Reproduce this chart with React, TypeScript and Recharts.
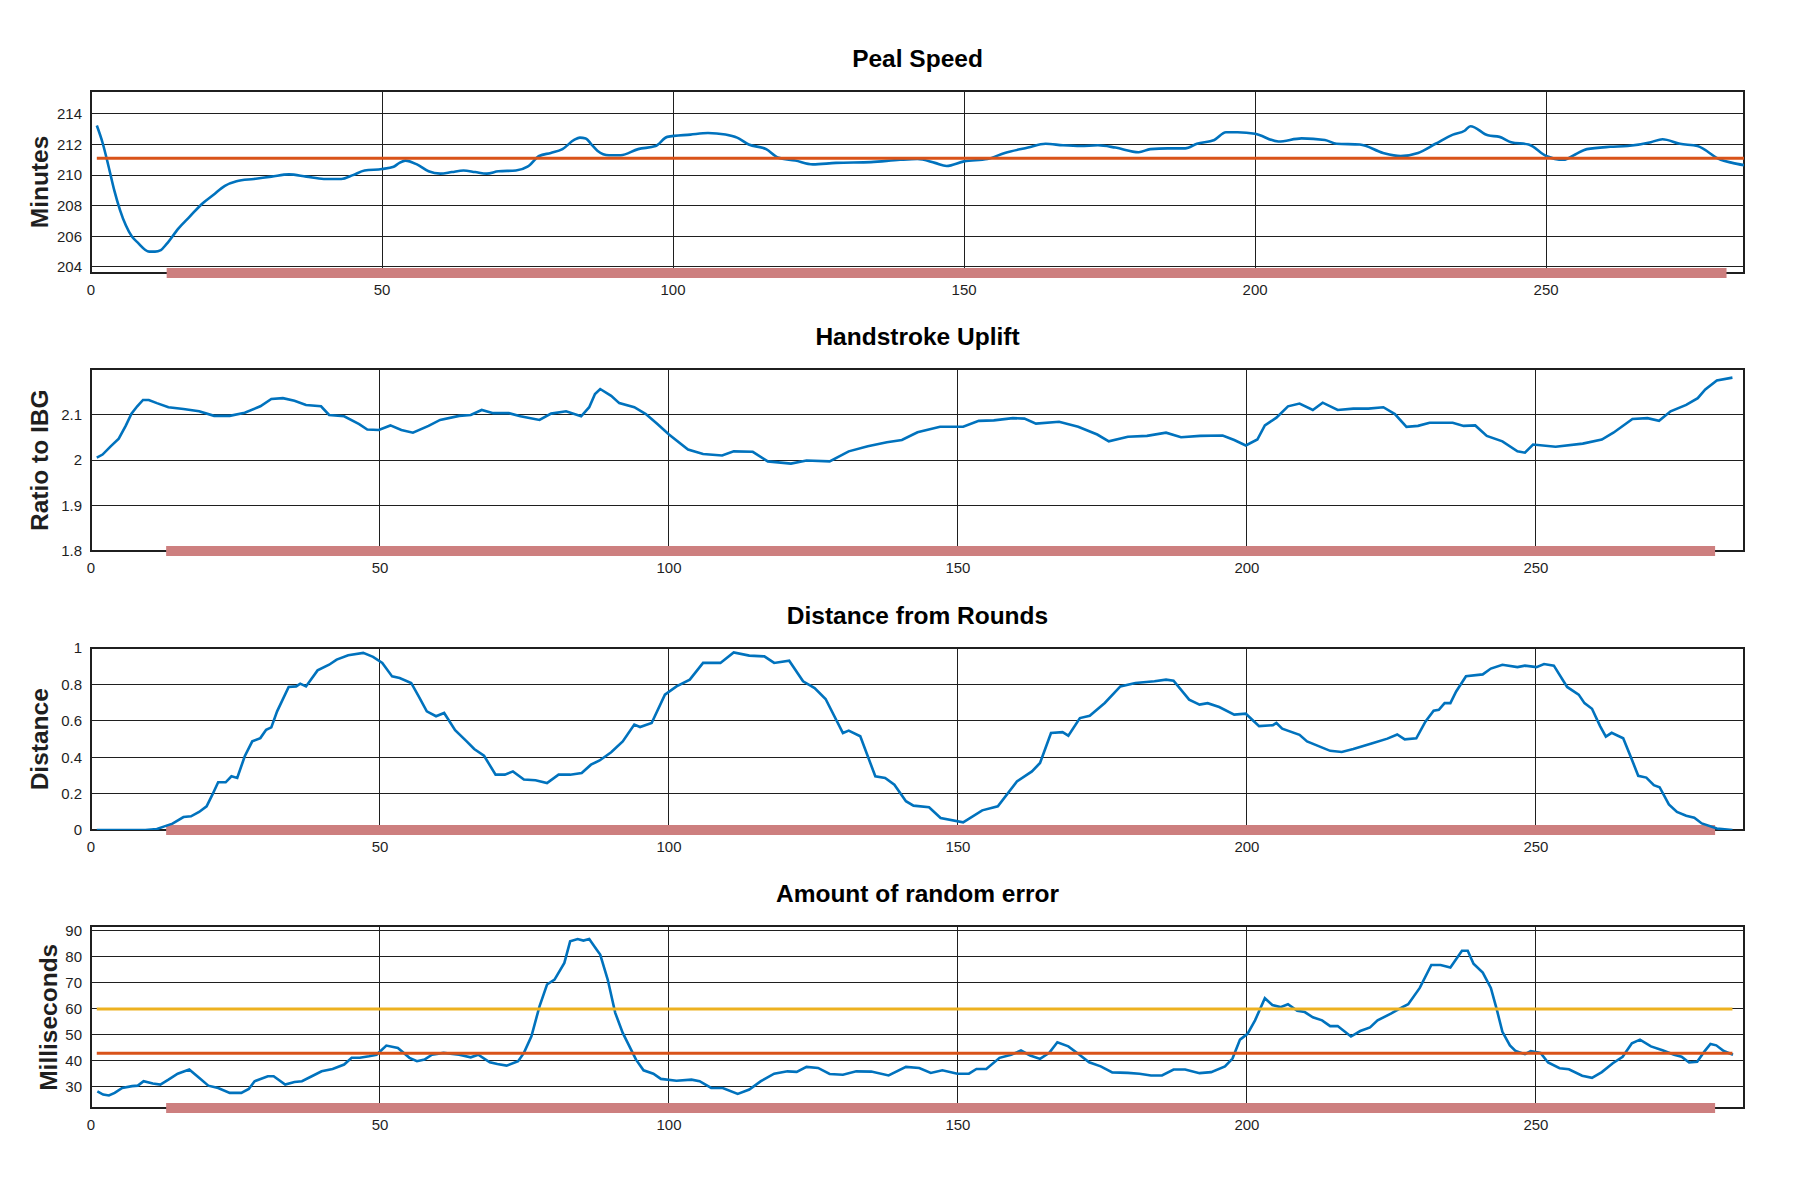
import { CartesianGrid, Line, LineChart, ReferenceArea, ReferenceLine, XAxis, YAxis } from 'recharts';

// shared axis bits
const X_TICKS = [0, 50, 100, 150, 200, 250];
const BAR_RANGE = [13, 281];
const MEAN_RANGE = [1, 284];

// Peal Speed (minutes)
const PEAL_X = [1, 2, 3, 4, 5, 6, 7, 8, 10, 11, 12, 13, 15, 17, 19, 21, 23, 25, 28, 31, 34, 37, 40, 43, 45, 47, 50, 52, 53, 54, 56, 58, 60, 62, 64, 66, 68, 70, 73, 75, 77, 79, 81, 83, 84, 85, 86, 87, 89, 91, 94, 97, 99, 103, 106, 109, 111, 113, 116, 118, 121, 124, 128, 134, 139, 142, 145, 147, 150, 154, 157, 161, 164, 167, 170, 173, 176, 180, 182, 185, 188, 190, 193, 195, 197, 200, 204, 208, 212, 214, 218, 222, 225, 228, 231, 234, 236, 237, 240, 242, 244, 247, 250, 253, 255, 257, 261, 264, 268, 270, 273, 276, 280, 282, 284];
const PEAL_Y = [213.24, 212.1, 210.6, 209.0, 207.7, 206.7, 206.0, 205.6, 205.0, 205.0, 205.1, 205.5, 206.5, 207.3, 208.1, 208.7, 209.3, 209.6, 209.75, 209.9, 210.05, 209.9, 209.75, 209.75, 210.0, 210.3, 210.4, 210.55, 210.8, 210.95, 210.7, 210.25, 210.1, 210.2, 210.3, 210.2, 210.1, 210.25, 210.3, 210.55, 211.25, 211.45, 211.7, 212.3, 212.45, 212.4, 212.0, 211.6, 211.3, 211.3, 211.7, 211.9, 212.5, 212.65, 212.75, 212.65, 212.45, 212.0, 211.7, 211.15, 210.95, 210.7, 210.8, 210.85, 211.0, 211.05, 210.8, 210.6, 210.9, 211.05, 211.45, 211.8, 212.05, 211.95, 211.9, 211.95, 211.8, 211.5, 211.7, 211.75, 211.75, 212.05, 212.3, 212.8, 212.8, 212.7, 212.2, 212.4, 212.3, 212.05, 212.0, 211.45, 211.25, 211.45, 212.05, 212.65, 212.9, 213.2, 212.6, 212.5, 212.15, 212.0, 211.25, 211.0, 211.35, 211.7, 211.85, 211.9, 212.15, 212.35, 212.05, 211.9, 211.0, 210.8, 210.65];
const PEAL_MEAN = 211.1;

// Handstroke Uplift (ratio to IBG)
const UPLIFT_X = [1, 2, 3.4, 4.8, 6, 7, 8, 9, 10, 11.4, 13.4, 16, 18.7, 21.3, 24, 26.6, 29.3, 31.2, 33.2, 35.2, 37.2, 39.8, 41.2, 43.8, 46.4, 47.8, 49.8, 51.8, 53.7, 55.7, 58.4, 60.4, 63.7, 65.7, 67.6, 69.6, 72.3, 74.3, 77.6, 79.6, 82.2, 84.8, 86.2, 87.2, 88.1, 90, 91.4, 94, 96, 98, 100, 103.3, 105.9, 109.2, 111.2, 114.5, 117.1, 121.1, 123.8, 127.8, 131.1, 134.4, 137.7, 140.3, 143, 146.9, 150.9, 153.6, 156.2, 159.5, 161.5, 163.5, 167.5, 170.8, 174.1, 176.1, 179.4, 182.7, 186, 188.6, 191.9, 195.8, 197.8, 199.8, 201.8, 203.1, 205.1, 207.1, 209.1, 211.4, 213.1, 215.7, 218.4, 221, 223.6, 225.6, 227.6, 229.6, 231.6, 235.6, 237.5, 239.5, 241.5, 244.2, 246.8, 248.1, 249.5, 253.4, 258.1, 261.4, 263.4, 266.7, 269.3, 271.3, 273.3, 276, 278, 279.3, 281.3, 284];
const UPLIFT_Y = [2.005, 2.012, 2.03, 2.047, 2.075, 2.102, 2.118, 2.132, 2.132, 2.125, 2.116, 2.112, 2.107, 2.097, 2.097, 2.104, 2.118, 2.134, 2.136, 2.13, 2.121, 2.118, 2.099, 2.096, 2.079, 2.067, 2.066, 2.076, 2.066, 2.06, 2.075, 2.088, 2.097, 2.099, 2.11, 2.103, 2.103, 2.096, 2.088, 2.102, 2.107, 2.096, 2.116, 2.145, 2.156, 2.141, 2.125, 2.116, 2.101, 2.079, 2.056, 2.023, 2.013, 2.01, 2.019, 2.018, 1.997, 1.992, 1.999, 1.997, 2.019, 2.03, 2.039, 2.044, 2.061, 2.073, 2.073, 2.086, 2.087, 2.092, 2.091, 2.08, 2.084, 2.073, 2.056, 2.041, 2.051, 2.053, 2.06, 2.05, 2.053, 2.054, 2.044, 2.032, 2.045, 2.076, 2.093, 2.118, 2.124, 2.11, 2.126, 2.11, 2.113, 2.113, 2.116, 2.101, 2.073, 2.075, 2.082, 2.082, 2.075, 2.076, 2.053, 2.041, 2.019, 2.016, 2.034, 2.029, 2.036, 2.045, 2.06, 2.09, 2.092, 2.086, 2.107, 2.121, 2.136, 2.155, 2.175, 2.181];

// Distance from Rounds
const DIST_X = [1, 9.4, 11.4, 12.7, 14.1, 16, 17.3, 18.7, 20, 21, 22, 23.3, 24.3, 25.3, 26.6, 27.9, 29.3, 30.3, 31.2, 32.2, 34.2, 35.5, 36.2, 37.2, 39.2, 41.2, 42.5, 44.5, 47.1, 48.8, 50.4, 52.1, 53.4, 55.4, 56.7, 58.1, 59.7, 61.1, 63, 65, 66.3, 68, 70, 71.6, 73, 74.9, 76.9, 78.9, 80.9, 82.9, 84.9, 86.5, 88, 90, 92, 94, 95, 97, 99.3, 101.3, 103.6, 105.9, 108.9, 111.2, 113.9, 116.5, 118.2, 120.8, 123.2, 125.2, 127.1, 130.1, 131.1, 133.1, 135.7, 137.4, 139, 141, 142.3, 145, 147, 150.9, 154.2, 156.9, 160.2, 162.8, 164.2, 166.1, 168.1, 169.1, 171.1, 172.8, 175.4, 178.1, 180.7, 184, 186, 187.3, 190, 191.8, 193.2, 195.2, 197.8, 199.8, 202.1, 204.5, 205.1, 206.1, 209.1, 210.4, 214.4, 216.4, 218.4, 221.7, 224.3, 226, 227.3, 229.3, 230.9, 232.3, 233.2, 234.2, 235.2, 236.2, 237.9, 240.8, 242.2, 244.2, 246.8, 248.1, 250.1, 251.4, 253.1, 255.4, 257.4, 258.4, 259.7, 261.1, 262.1, 263.1, 265.1, 266.4, 267.7, 269.1, 270.4, 271.4, 273, 274.4, 276, 277.4, 278.7, 281.3, 284];
const DIST_Y = [0, 0, 0.005, 0.02, 0.035, 0.071, 0.075, 0.099, 0.13, 0.194, 0.262, 0.262, 0.295, 0.286, 0.405, 0.487, 0.505, 0.551, 0.564, 0.652, 0.786, 0.789, 0.804, 0.789, 0.877, 0.908, 0.936, 0.96, 0.973, 0.951, 0.918, 0.844, 0.835, 0.808, 0.734, 0.652, 0.625, 0.643, 0.548, 0.487, 0.445, 0.408, 0.304, 0.304, 0.322, 0.277, 0.273, 0.258, 0.304, 0.304, 0.313, 0.359, 0.382, 0.427, 0.487, 0.579, 0.566, 0.588, 0.744, 0.789, 0.826, 0.918, 0.918, 0.976, 0.958, 0.954, 0.918, 0.93, 0.817, 0.78, 0.72, 0.533, 0.546, 0.515, 0.295, 0.286, 0.249, 0.158, 0.134, 0.125, 0.066, 0.042, 0.108, 0.13, 0.267, 0.322, 0.368, 0.533, 0.538, 0.518, 0.615, 0.628, 0.698, 0.789, 0.808, 0.817, 0.826, 0.82, 0.716, 0.689, 0.697, 0.676, 0.634, 0.639, 0.571, 0.576, 0.588, 0.557, 0.523, 0.487, 0.435, 0.429, 0.445, 0.477, 0.502, 0.525, 0.498, 0.504, 0.597, 0.655, 0.66, 0.697, 0.697, 0.761, 0.845, 0.855, 0.887, 0.908, 0.895, 0.903, 0.895, 0.912, 0.903, 0.786, 0.744, 0.697, 0.666, 0.571, 0.513, 0.534, 0.504, 0.403, 0.298, 0.288, 0.246, 0.235, 0.141, 0.099, 0.078, 0.067, 0.036, 0.008, 0];

// Amount of random error (ms)
const ERR_X = [1.1, 2.1, 3.1, 4.1, 5.4, 7.1, 8.1, 9.1, 10.7, 12, 13.4, 15, 17, 18.7, 20.3, 22, 24, 26, 27.3, 28.3, 30.6, 31.6, 33.6, 35.2, 36.5, 38.2, 39.9, 41.8, 43.8, 45.1, 46.5, 48.1, 49.4, 51.1, 53.1, 55.1, 56.4, 57.7, 59, 61, 63.7, 65.7, 67, 69, 70.3, 71.9, 73.9, 74.9, 76.2, 77.6, 78.9, 80.2, 81.9, 82.9, 84.2, 85.2, 86.2, 87.5, 88.1, 89.4, 90.7, 92, 94.3, 95.6, 97.3, 98.6, 101.3, 103.9, 105.3, 107.3, 109.3, 111.9, 113.9, 115.9, 118.2, 120.5, 122.1, 123.8, 125.8, 127.8, 130.1, 132.4, 135, 138, 141, 143.3, 145.3, 147.3, 149.9, 151.9, 153.2, 154.9, 157.2, 159.2, 160.9, 162.5, 164.2, 165.8, 167.2, 169.1, 170.8, 172.7, 174.7, 176.7, 179.4, 181.4, 183.4, 185.3, 187.3, 189.3, 191.8, 193.8, 196.2, 197.5, 198.8, 200.1, 201.4, 203.1, 204.4, 205.8, 207.1, 208.7, 210, 211.4, 213, 214.4, 215.7, 218, 219.6, 221.3, 222.6, 224.9, 226.9, 227.9, 229.9, 231.9, 233.5, 235.2, 237.2, 238.2, 239.2, 240.8, 242.2, 243.2, 244.2, 245.5, 246.5, 248.1, 249.1, 250.8, 252.1, 254.1, 255.7, 258, 259.7, 261.4, 263.3, 265, 266.6, 268, 269.9, 271.9, 273.9, 275.2, 276.5, 277.9, 279.2, 280.2, 281.2, 282.5, 284.1];
const ERR_Y = [28.3, 27.05, 26.7, 27.7, 29.6, 30.3, 30.5, 32.2, 31.3, 30.9, 32.8, 35.1, 36.7, 33.5, 30.5, 29.6, 27.7, 27.7, 29.2, 32.2, 34.1, 34.1, 30.9, 31.9, 32.2, 34.1, 36, 36.9, 38.6, 41.2, 41.2, 41.8, 42.4, 45.9, 45, 41.2, 39.9, 40.5, 42.4, 43.1, 42.4, 41.4, 42.4, 39.5, 38.8, 38.2, 39.9, 43.1, 49.5, 61, 69.4, 71.3, 77.7, 86, 86.9, 86.3, 86.9, 82.8, 80.9, 71.3, 58.5, 50.8, 40.5, 36.4, 35.1, 33.1, 32.4, 32.8, 32.2, 29.6, 29.6, 27.3, 29, 32.2, 35.1, 36, 35.8, 37.7, 37.3, 35, 34.7, 36, 35.9, 34.4, 37.7, 37.3, 35.4, 36.4, 35.1, 35.1, 36.9, 36.9, 41.2, 42.4, 44, 42.1, 40.8, 43.1, 47.2, 45.6, 42.8, 39.5, 37.9, 35.6, 35.4, 35.1, 34.4, 34.4, 36.7, 36.7, 35.3, 35.7, 37.9, 40.9, 48.2, 50.4, 55.6, 64.1, 61.5, 60.7, 61.8, 59.3, 58.8, 56.8, 55.6, 53.4, 53.4, 49.4, 51.5, 52.9, 55.6, 58.2, 60.7, 61.8, 68.1, 76.9, 76.9, 75.9, 82.4, 82.4, 77.4, 74, 68.1, 60, 51.2, 46, 43.8, 42.6, 43.8, 43.1, 39.4, 37.2, 36.8, 34.3, 33.5, 35.7, 39.1, 41.6, 46.8, 48.2, 45.6, 44.1, 42.4, 41.6, 39.4, 39.7, 43.8, 46.5, 46, 43.8, 42.4];
const ERR_MEAN = 43;
const ERR_LIMIT = 60;

const BLUE = '#0072bd';
const ORANGE = '#d95319';
const YELLOW = '#edb120';
const BAR = '#cd7f7f';
const INK = '#1f1f1f';
const FONT = '"Liberation Sans", Arial, sans-serif';

const PLOT_LEFT = 91;
const PLOT_RIGHT = 1744;
const PLOT_TOP = 91;
const PLOT_H = 182;
const CHART_W = 1800;
const CHART_H = 330;

type Pt = { x: number; v: number };

const zip = (xs: number[], ys: number[]): Pt[] => xs.map((x, i) => ({ x, v: ys[i] }));

interface RefLine {
  value: number;
  color: string;
}

interface PanelProps {
  top: number;
  title: string;
  yLabel: string;
  yLabelX: number;
  xMax: number;
  yDomain: [number, number];
  yTicks: number[];
  data: Pt[];
  refs: RefLine[];
  curve: 'monotone' | 'linear';
}

function Panel({ top, xMax, yDomain, yTicks, data, refs, curve }: PanelProps) {
  const [lo, hi] = yDomain;
  return (
    <div style={{ position: 'absolute', left: 0, top, width: CHART_W, height: CHART_H }}>
      <LineChart
        width={CHART_W}
        height={CHART_H}
        margin={{ top: PLOT_TOP, right: CHART_W - PLOT_RIGHT, bottom: CHART_H - PLOT_TOP - PLOT_H - 30, left: PLOT_LEFT - 60 }}
      >
        <CartesianGrid stroke={INK} strokeWidth={1} shapeRendering="crispEdges" />
        <XAxis
          type="number"
          dataKey="x"
          domain={[0, xMax]}
          allowDataOverflow
          ticks={X_TICKS}
          height={30}
          tickSize={0}
          tickMargin={11}
          tickLine={false}
          axisLine={false}
          tick={{ fill: INK, fontSize: 15, fontFamily: FONT }}
        />
        <YAxis
          type="number"
          domain={yDomain}
          allowDataOverflow
          ticks={yTicks}
          width={60}
          tickSize={0}
          tickMargin={9}
          tickLine={false}
          axisLine={false}
          tick={{ fill: INK, fontSize: 15, fontFamily: FONT }}
        />
        <ReferenceLine
          segment={[{ x: BAR_RANGE[0], y: lo }, { x: BAR_RANGE[1], y: lo }]}
          stroke={BAR}
          strokeWidth={10}
          ifOverflow="visible"
        />
        <ReferenceArea
          x1={0}
          x2={xMax}
          y1={lo}
          y2={hi}
          fill="none"
          stroke={INK}
          strokeWidth={1.2}
          shapeRendering="crispEdges"
        />
        <Line
          data={data}
          dataKey="v"
          type={curve}
          stroke={BLUE}
          strokeWidth={2.6}
          dot={false}
          isAnimationActive={false}
        />
        {refs.map((r) => (
          <Line
            key={r.value}
            data={MEAN_RANGE.map((x) => ({ x, v: r.value }))}
            dataKey="v"
            type="linear"
            stroke={r.color}
            strokeWidth={3}
            dot={false}
            isAnimationActive={false}
          />
        ))}
      </LineChart>
    </div>
  );
}

const PANELS: PanelProps[] = [
  {
    top: 0,
    title: 'Peal Speed',
    yLabel: 'Minutes',
    yLabelX: 47.8,
    xMax: 284,
    yDomain: [203.6, 215.5],
    yTicks: [204, 206, 208, 210, 212, 214],
    data: zip(PEAL_X, PEAL_Y),
    refs: [{ value: PEAL_MEAN, color: ORANGE }],
    curve: 'monotone',
  },
  {
    top: 278.3,
    title: 'Handstroke Uplift',
    yLabel: 'Ratio to IBG',
    yLabelX: 47.8,
    xMax: 286,
    yDomain: [1.8, 2.2],
    yTicks: [1.8, 1.9, 2, 2.1],
    data: zip(UPLIFT_X, UPLIFT_Y),
    refs: [],
    curve: 'linear',
  },
  {
    top: 557.3,
    title: 'Distance from Rounds',
    yLabel: 'Distance',
    yLabelX: 47.8,
    xMax: 286,
    yDomain: [0, 1],
    yTicks: [0, 0.2, 0.4, 0.6, 0.8, 1],
    data: zip(DIST_X, DIST_Y),
    refs: [],
    curve: 'linear',
  },
  {
    top: 835.3,
    title: 'Amount of random error',
    yLabel: 'Milliseconds',
    yLabelX: 57.4,
    xMax: 286,
    yDomain: [21.9, 91.9],
    yTicks: [30, 40, 50, 60, 70, 80, 90],
    data: zip(ERR_X, ERR_Y),
    refs: [
      { value: ERR_LIMIT, color: YELLOW },
      { value: ERR_MEAN, color: ORANGE },
    ],
    curve: 'linear',
  },
];

export default function App() {
  const centerX = (PLOT_LEFT + PLOT_RIGHT) / 2;
  return (
    <div style={{ position: 'absolute', left: 0, top: 0, width: 1800, height: 1200, background: '#fff', fontFamily: FONT }}>
      {PANELS.map((p) => (
        <Panel key={p.title} {...p} />
      ))}
      <svg
        width={1800}
        height={1200}
        style={{ position: 'absolute', left: 0, top: 0, pointerEvents: 'none' }}
      >
        {PANELS.map((p) => (
          <g key={p.title} fontFamily={FONT} fontWeight="bold" fontSize={24.5}>
            <text x={centerX} y={p.top + 66.5} textAnchor="middle" fill="#000">
              {p.title}
            </text>
            <text
              transform={`translate(${p.yLabelX}, ${p.top + PLOT_TOP + PLOT_H / 2}) rotate(-90)`}
              textAnchor="middle"
              fill={INK}
            >
              {p.yLabel}
            </text>
          </g>
        ))}
      </svg>
    </div>
  );
}
